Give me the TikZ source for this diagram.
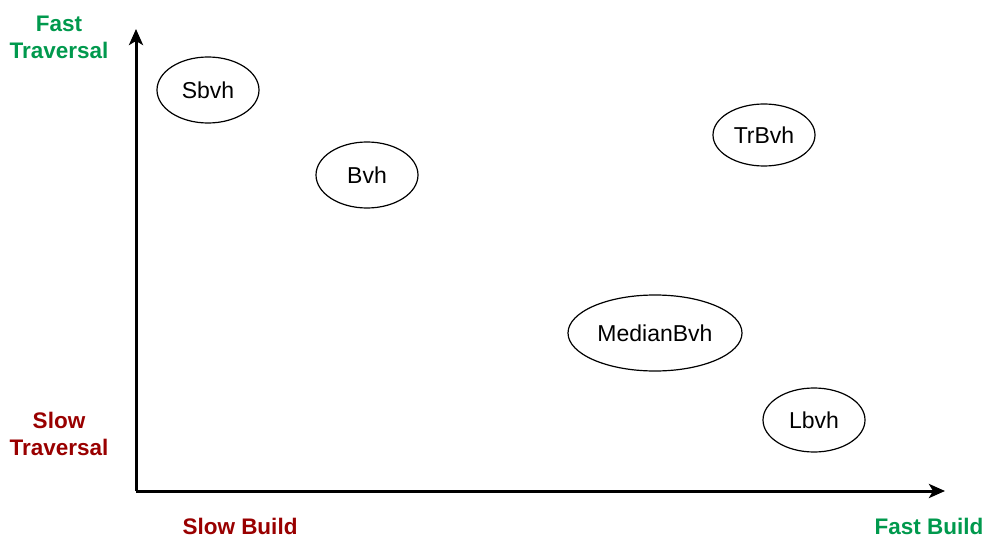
\documentclass[tikz,border=0pt]{standalone}
\usepackage{fontspec}
\setmainfont{Liberation Sans}
\usepackage{tikz}
\usetikzlibrary{arrows.meta,shapes.geometric}
\definecolor{fastgreen}{HTML}{00994D}
\definecolor{slowred}{HTML}{990000}

\begin{document}
\begin{tikzpicture}[x=1pt,y=-1pt,>={Stealth[length=16pt,width=14pt,inset=4pt]},
  bvh node/.style={draw,ellipse,line width=1.2pt,inner sep=0pt,
    font=\fontsize{23}{27}\selectfont},
  fast label/.style={font=\fontsize{22.5}{27}\selectfont\bfseries,
    text=fastgreen,align=center},
  slow label/.style={font=\fontsize{22.5}{27}\selectfont\bfseries,
    text=slowred,align=center}]

  \useasboundingbox (0,0) rectangle (987,537);

  \coordinate (origin) at (136, 491);
  \coordinate (ytip) at (136, 29);
  \coordinate (xtip) at (945, 491);

  \draw[->,line width=3pt] (origin) -- (ytip);
  \draw[->,line width=3pt] (origin) -- (xtip);

  \node[bvh node,minimum width=102,minimum height=66] (sbvh) at (208, 90)
    {Sbvh};
  \node[bvh node,minimum width=102,minimum height=66] (bvh) at (367, 175)
    {Bvh};
  \node[bvh node,minimum width=102,minimum height=62] (trbvh) at (764, 135)
    {TrBvh};
  \node[bvh node,minimum width=174,minimum height=76] (medianbvh) at (655, 333)
    {MedianBvh};
  \node[bvh node,minimum width=102,minimum height=64] (lbvh) at (814, 420)
    {Lbvh};

  \node[fast label] (fasttrav) at (59, 37) {Fast\\Traversal};
  \node[slow label] (slowtrav) at (59, 434) {Slow\\Traversal};
  \node[slow label] (slowbuild) at (240, 526) {Slow Build};
  \node[fast label] (fastbuild) at (929, 526) {Fast Build};

\end{tikzpicture}
\end{document}
